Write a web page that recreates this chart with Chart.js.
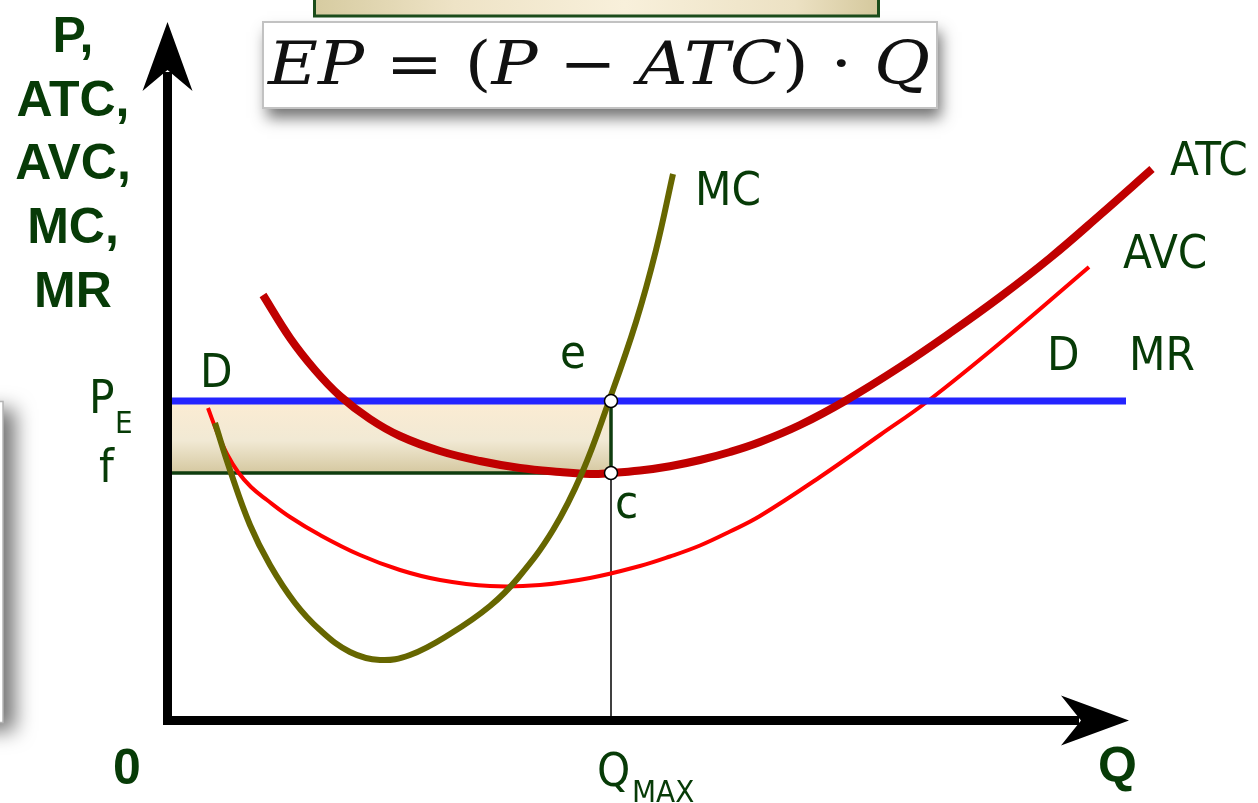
<!DOCTYPE html>
<html><head><meta charset="utf-8">
<script src="https://cdn.jsdelivr.net/npm/chart.js@4.4.0/dist/chart.umd.min.js"></script>
<style>html,body{margin:0;padding:0;background:#fff;overflow:hidden}canvas{display:block}</style>
</head><body>
<canvas id="c" width="1258" height="803"></canvas>
<script>
// ---- data (arbitrary units: quantity / price) ----
const Q_MAX = 44.3;      // profit-maximising output
const P_E = 31.9;        // equilibrium price (MR = D)
const F_LEVEL = 24.7;    // ATC at Q_MAX
const MR_END = 95.8;
const X_MAX = 96;
const Y_MAX = 69.8;

const atcX = [9.5, 12.2, 14.7, 17.2, 20.2, 23.2, 27.2, 31.2, 35.2, 39.2, 42.2, 44.3, 47.2, 50.2, 53.2, 56.2, 59.2, 63.2, 67.7, 73.2, 78.2, 83.2, 88.2, 93.2, 98.4];
const atcY = [42.5, 38.2, 35.0, 32.4, 30.1, 28.4, 26.9, 25.9, 25.2, 24.8, 24.6, 24.7, 24.95, 25.38, 26.0, 26.8, 27.8, 29.5, 31.9, 35.3, 38.7, 42.3, 46.2, 50.5, 55.1];

const avcX = [4.0, 4.9, 5.9, 7.0, 8.3, 9.9, 12.2, 15.2, 19.2, 23.2, 27.2, 32.2, 37.2, 42.2, 47.2, 50.2, 53.2, 56.2, 59.2, 65.2, 71.2, 76.0, 83.2, 92.1];
const avcY = [31.2, 28.8, 26.6, 24.8, 23.3, 22.0, 20.3, 18.5, 16.5, 15.0, 14.0, 13.4, 13.5, 14.2, 15.4, 16.35, 17.45, 18.85, 20.4, 24.3, 28.5, 31.9, 37.7, 45.3];

const mcX = [4.7, 6.2, 8.2, 10.2, 12.7, 15.2, 18.2, 21.2, 24.2, 28.2, 32.2, 35.0, 38.5, 41.4, 44.1, 46.8, 48.8, 50.5];
const mcY = [29.7, 25.0, 19.5, 15.5, 11.7, 9.0, 6.8, 6.0, 6.5, 8.6, 11.4, 14.2, 19.0, 24.7, 31.9, 39.8, 47.0, 54.6];

const yTitleLines = ["P,", "ATC,", "AVC,", "MC,", "MR"];
const formulaParts = [["EP", true], [" = ", false], ["(", false], ["P", true], [" \u2212 ", false], ["ATC", true], [")", false], [" \u00B7 ", false], ["Q", true]];

const zip = (xs, ys) => xs.map((x, i) => ({x, y: ys[i]}));

const GREEN = '#073b07';
const LBL = '47px "DejaVu Sans Condensed", "DejaVu Sans", sans-serif';
const SUB = '31px "DejaVu Sans Condensed", "DejaVu Sans", sans-serif';
const BOLD = 'bold 50px "Liberation Sans", Arial, sans-serif';

function txt(ctx, s, x, y, font, align) {
  ctx.font = font; ctx.fillStyle = GREEN; ctx.textAlign = align || 'left';
  ctx.textBaseline = 'alphabetic'; ctx.fillText(s, x, y);
}

const overlay = {
  id: 'overlay',
  beforeDraw(chart) {
    const ctx = chart.ctx;
    ctx.save();
    ctx.fillStyle = '#fff'; ctx.fillRect(0, 0, chart.width, chart.height);
    // left partial gray box with shadow
    ctx.shadowColor = 'rgba(0,0,0,0.55)'; ctx.shadowBlur = 20; ctx.shadowOffsetX = 12; ctx.shadowOffsetY = 8;
    ctx.fillStyle = '#fff'; ctx.fillRect(-40, 401, 43, 322);
    ctx.shadowColor = 'transparent';
    ctx.strokeStyle = '#b4b4b4'; ctx.lineWidth = 1.5; ctx.strokeRect(-40, 401.5, 43, 321);
    // top green-bordered box (cut off)
    const g = ctx.createLinearGradient(313, 0, 880, 0);
    g.addColorStop(0, '#d6cba0'); g.addColorStop(0.25, '#eee3c6'); g.addColorStop(0.55, '#f8f0db'); g.addColorStop(0.85, '#ece1c3'); g.addColorStop(1, '#d4c89c');
    ctx.fillStyle = g; ctx.fillRect(313, -10, 567, 27);
    ctx.strokeStyle = '#1b4d1b'; ctx.lineWidth = 3; ctx.strokeRect(314.5, -10, 564, 26);
    // formula box with shadow
    ctx.shadowColor = 'rgba(0,0,0,0.55)'; ctx.shadowBlur = 14; ctx.shadowOffsetX = 4; ctx.shadowOffsetY = 10;
    ctx.fillStyle = '#fff'; ctx.fillRect(263, 22, 674, 86);
    ctx.shadowColor = 'transparent';
    ctx.strokeStyle = '#c2c2c2'; ctx.lineWidth = 2; ctx.strokeRect(263, 22, 674, 86);
    // formula text
    const fsz = 60;
    const fi = `italic ${fsz}px "DejaVu Serif", "Liberation Serif", serif`;
    const fn = `${fsz}px "DejaVu Serif", "Liberation Serif", serif`;
    let total = 0;
    formulaParts.forEach(([s, it]) => { ctx.font = it ? fi : fn; total += ctx.measureText(s).width; });
    ctx.translate(268, 84); ctx.scale(662 / total, 1);
    ctx.fillStyle = '#111'; ctx.textBaseline = 'alphabetic'; ctx.textAlign = 'left';
    let cx = 0;
    formulaParts.forEach(([s, it]) => { ctx.font = it ? fi : fn; ctx.fillText(s, cx, 0); cx += ctx.measureText(s).width; });
    ctx.restore();
  },
  afterDatasetsDraw(chart) {
    const ctx = chart.ctx, xs = chart.scales.x, ys = chart.scales.y;
    const x0 = xs.getPixelForValue(0) - 0.5, y0 = ys.getPixelForValue(0) + 0.5;
    const xe = xs.getPixelForValue(X_MAX) + 1, yt = ys.getPixelForValue(Y_MAX);
    ctx.save();
    ctx.fillStyle = '#000'; ctx.strokeStyle = '#000'; ctx.lineWidth = 9; ctx.lineCap = 'butt';
    ctx.beginPath(); ctx.moveTo(x0, y0 + 4.5); ctx.lineTo(x0, yt + 50); ctx.stroke();
    ctx.beginPath(); ctx.moveTo(x0 - 4.5, y0); ctx.lineTo(xe - 50, y0); ctx.stroke();
    ctx.beginPath(); ctx.moveTo(x0, yt); ctx.lineTo(x0 + 25, yt + 69); ctx.lineTo(x0, yt + 48); ctx.lineTo(x0 - 25, yt + 69); ctx.closePath(); ctx.fill();
    ctx.beginPath(); ctx.moveTo(xe, y0); ctx.lineTo(xe - 68, y0 - 25); ctx.lineTo(xe - 48, y0); ctx.lineTo(xe - 68, y0 + 25); ctx.closePath(); ctx.fill();
    // y-axis title
    yTitleLines.forEach((s, i) => txt(ctx, s, 73, 52 + i * 63.7, BOLD, 'center'));
    txt(ctx, '0', 113, 784, BOLD);
    txt(ctx, 'Q', 1098, 782, BOLD);
    // curve labels
    txt(ctx, 'MC', 695, 205, LBL);
    txt(ctx, 'ATC', 1170, 175, LBL);
    txt(ctx, 'AVC', 1123, 268, LBL);
    txt(ctx, 'D', 1047, 370, LBL);
    txt(ctx, 'MR', 1129, 370, LBL);
    txt(ctx, 'D', 200, 387, LBL);
    txt(ctx, 'e', 560, 368, LBL);
    txt(ctx, 'c', 615, 518, LBL);
    txt(ctx, 'P', 89, 413, LBL);
    txt(ctx, 'E', 115, 433, SUB);
    txt(ctx, 'f', 99, 482, LBL);
    txt(ctx, 'Q', 597, 786, LBL);
    txt(ctx, 'MAX', 632, 802, SUB);
    ctx.restore();
  }
};

const rectFill = (context) => {
  const chart = context.chart;
  if (!chart.chartArea) return 'rgba(0,0,0,0)';
  const y1 = chart.scales.y.getPixelForValue(P_E), y2 = chart.scales.y.getPixelForValue(F_LEVEL);
  const g = chart.ctx.createLinearGradient(0, y1, 0, y2);
  g.addColorStop(0, '#fcecd3'); g.addColorStop(0.55, '#f1e9d4'); g.addColorStop(1, '#d5c8a0');
  return g;
};

const curve = (data, color, w) => ({data, borderColor: color, borderWidth: w, pointRadius: 0, fill: false,
  tension: 0.4, clip: false, borderCapStyle: 'butt'});
const seg = (data, color, w) => ({data, borderColor: color, borderWidth: w, pointRadius: 0, fill: false, tension: 0, clip: false});

new Chart(document.getElementById('c'), {
  type: 'line',
  data: {
    datasets: [
      {data: [{x: Q_MAX, y: P_E}, {x: Q_MAX, y: F_LEVEL}], showLine: false, pointRadius: 6.5, pointBackgroundColor: '#fff', pointBorderColor: '#000', pointBorderWidth: 1.5, clip: false},
      curve(zip(mcX, mcY), '#666600', 6),
      curve(zip(atcX, atcY), '#c00000', 8),
      seg([{x: 0, y: P_E}, {x: MR_END, y: P_E}], '#2424ff', 7),
      curve(zip(avcX, avcY), '#ff0000', 4),
      seg([{x: Q_MAX, y: 0}, {x: Q_MAX, y: F_LEVEL}], '#000', 1.5),
      seg([{x: 0, y: F_LEVEL}, {x: Q_MAX, y: F_LEVEL}, {x: Q_MAX, y: P_E}], '#0f3d0f', 3.5),
      {data: [{x: 0, y: P_E}, {x: Q_MAX, y: P_E}], borderWidth: 0, pointRadius: 0, fill: {value: F_LEVEL}, backgroundColor: rectFill, clip: false}
    ]
  },
  options: {
    responsive: false, animation: false, devicePixelRatio: 1,
    layout: {padding: {left: 168, right: 130, top: 22, bottom: 83}},
    scales: {
      x: {type: 'linear', min: 0, max: X_MAX, display: false},
      y: {type: 'linear', min: 0, max: Y_MAX, display: false}
    },
    plugins: {legend: {display: false}, tooltip: {enabled: false}}
  },
  plugins: [overlay]
});
</script>
</body></html>
